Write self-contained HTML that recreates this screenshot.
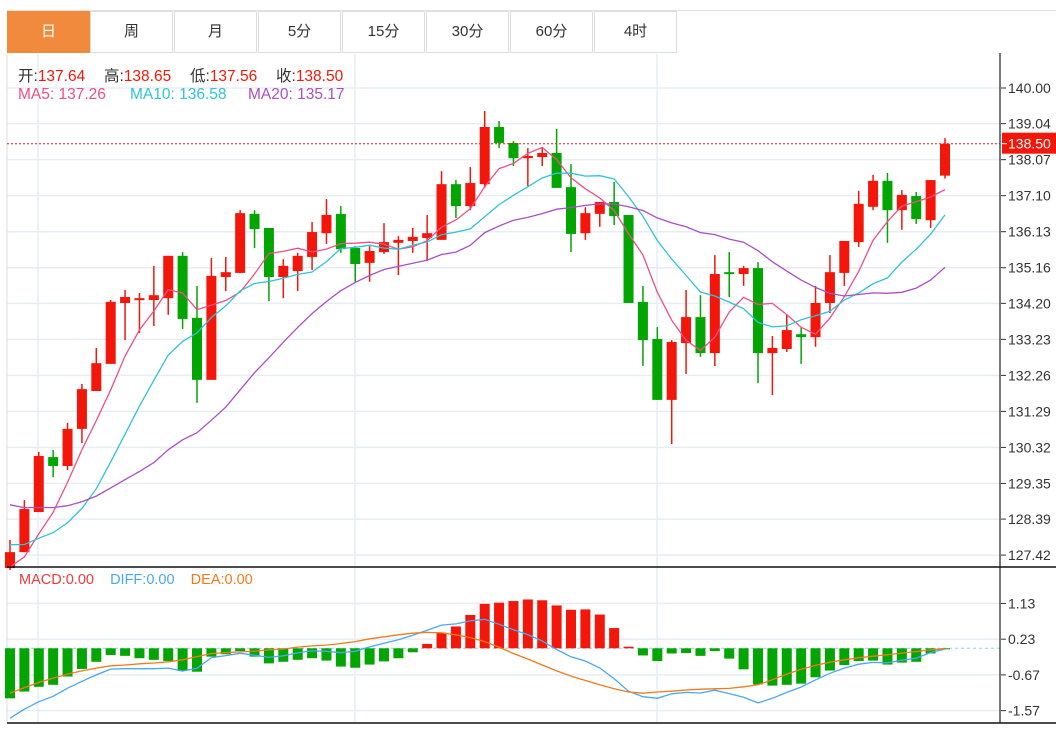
<!DOCTYPE html>
<html><head><meta charset="utf-8">
<style>
html,body{margin:0;padding:0;background:#fff;}
body{width:1056px;height:731px;overflow:hidden;position:relative;font-family:"Liberation Sans","Noto Sans CJK SC",sans-serif;}
.tab{position:absolute;top:11px;height:42px;width:83px;border:1px solid #ddd;box-sizing:border-box;text-align:center;line-height:40px;font-size:15px;color:#333;background:#fff;}
.tab.on{background:#f28a3e;color:#fff;border-color:#f28a3e;}
.info{position:absolute;font-size:15.5px;white-space:nowrap;}
</style></head>
<body>
<div style="position:absolute;left:7px;top:10px;width:1049px;height:1px;background:#e0e0e0"></div>
<div>
<div class="tab on" style="left:7px">日</div>
<div class="tab" style="left:90px">周</div>
<div class="tab" style="left:174px">月</div>
<div class="tab" style="left:258px">5分</div>
<div class="tab" style="left:342px">15分</div>
<div class="tab" style="left:426px">30分</div>
<div class="tab" style="left:510px">60分</div>
<div class="tab" style="left:594px">4时</div>
</div>
<svg id="chart" width="1056" height="731" style="position:absolute;left:0;top:0" xmlns="http://www.w3.org/2000/svg"></svg>
<div>
<div class="info" style="top:64px;left:18px;color:#333">开:<span style="color:#f01a0a">137.64</span></div>
<div class="info" style="top:64px;left:104px;color:#333">高:<span style="color:#f01a0a">138.65</span></div>
<div class="info" style="top:64px;left:190px;color:#333">低:<span style="color:#f01a0a">137.56</span></div>
<div class="info" style="top:64px;left:276px;color:#333">收:<span style="color:#f01a0a">138.50</span></div>
</div>
<div>
<div class="info" style="top:86px;left:18px;color:#ee4f86">MA5: 137.26</div>
<div class="info" style="top:86px;left:130px;color:#2fc3d8">MA10: 136.58</div>
<div class="info" style="top:86px;left:248px;color:#aa4fc4">MA20: 135.17</div>
</div>
<div class="info" style="top:572px;left:19px;font-size:14.5px"><span style="color:#f03a3a">MACD:0.00</span>&nbsp;&nbsp;&nbsp; <span style="color:#4aa8f0">DIFF:0.00</span>&nbsp;&nbsp;&nbsp; <span style="color:#f27a1a">DEA:0.00</span></div>
<script>
const opens=[127.07,127.50,128.58,130.06,129.82,130.82,131.84,132.57,134.21,134.32,134.29,134.34,135.48,133.81,132.14,134.91,135.02,136.61,136.23,134.91,135.07,135.45,136.09,136.61,135.69,135.29,135.58,135.83,135.88,135.96,135.91,137.41,136.82,137.41,138.95,138.52,138.11,138.14,138.25,137.33,136.09,136.61,136.93,136.58,134.24,133.24,131.60,133.13,133.83,132.86,135.04,134.99,135.15,132.86,132.97,133.37,133.29,134.21,135.02,135.85,136.80,137.50,136.71,137.09,136.44,137.64];
const closes=[127.50,128.66,130.09,129.82,130.82,131.89,132.59,134.24,134.37,134.34,134.42,135.48,133.78,132.14,134.94,135.04,136.63,136.20,134.91,135.21,135.48,136.12,136.58,135.66,135.26,135.61,135.85,135.91,135.99,136.09,137.41,136.82,137.44,138.95,138.52,138.11,138.17,138.25,137.31,136.07,136.63,136.93,136.55,134.21,133.21,131.60,133.16,133.83,132.86,134.99,134.99,135.15,132.86,133.00,133.48,133.29,134.21,135.04,135.88,136.88,137.50,136.71,137.12,136.47,137.52,138.50];
const highs=[127.83,128.90,130.20,130.25,130.98,132.03,133.00,134.29,134.56,134.48,135.21,135.48,135.58,134.67,135.42,135.45,136.71,136.71,136.23,135.39,135.56,136.39,137.01,136.82,135.74,135.74,136.36,136.01,136.23,136.58,137.76,137.52,137.87,139.38,139.11,138.57,138.38,138.38,138.90,137.95,136.79,136.93,137.47,136.58,134.67,133.56,133.21,134.56,134.42,135.50,135.58,135.21,135.31,133.32,133.89,133.56,134.67,135.50,135.88,137.23,137.66,137.71,137.25,137.20,137.52,138.65];
const lows=[127.02,127.50,128.58,129.52,129.71,130.44,131.84,132.57,133.21,133.40,133.59,133.89,133.51,131.52,132.14,134.53,135.02,135.69,134.26,134.34,134.53,135.10,135.80,135.56,134.78,134.78,135.53,134.96,135.56,135.34,135.91,136.50,136.71,137.31,138.38,137.90,137.36,137.90,137.31,135.58,135.91,136.26,136.31,134.21,132.51,131.60,130.41,132.30,132.76,132.51,134.37,134.67,132.05,131.73,132.89,132.57,133.03,133.94,134.67,135.72,136.71,135.83,136.18,136.34,136.23,137.56];
const priorCloses=[130.2,130.0,129.9,129.8,129.7,129.6,129.8,129.9,130.0,129.6,128.6,128.4,128.3,128.2,128.0,127.3,127.0,126.9,126.8];
const macdHist=[-1.26,-1.09,-0.97,-0.92,-0.71,-0.52,-0.34,-0.17,-0.19,-0.25,-0.29,-0.32,-0.57,-0.59,-0.21,-0.15,-0.07,-0.21,-0.38,-0.34,-0.29,-0.25,-0.31,-0.46,-0.49,-0.41,-0.33,-0.25,-0.10,0.11,0.39,0.55,0.84,1.12,1.15,1.19,1.23,1.21,1.08,0.97,0.98,0.85,0.51,0.04,-0.18,-0.32,-0.13,-0.12,-0.19,-0.07,-0.26,-0.53,-0.91,-0.94,-0.92,-0.89,-0.73,-0.56,-0.42,-0.32,-0.31,-0.41,-0.36,-0.34,-0.13,-0.02];
const deaVals=[-1.13,-0.99,-0.86,-0.75,-0.65,-0.57,-0.50,-0.44,-0.42,-0.39,-0.37,-0.34,-0.29,-0.21,-0.13,-0.11,-0.09,-0.07,-0.04,-0.02,0.03,0.06,0.08,0.12,0.17,0.24,0.29,0.34,0.38,0.40,0.39,0.34,0.27,0.17,0.03,-0.13,-0.27,-0.42,-0.57,-0.70,-0.81,-0.92,-1.02,-1.10,-1.13,-1.10,-1.08,-1.05,-1.03,-1.02,-1.01,-0.97,-0.92,-0.79,-0.65,-0.53,-0.43,-0.35,-0.29,-0.24,-0.20,-0.16,-0.12,-0.08,-0.04,-0.01];
const priceTicks=["140.00","139.04","138.07","137.10","136.13","135.16","134.20","133.23","132.26","131.29","130.32","129.35","128.39","127.42"];
const macdTicks=["1.13","0.23","-0.67","-1.57"];
const lastPrice=138.50;

const svg=document.getElementById('chart');
const NS='http://www.w3.org/2000/svg';
function mk(tag,attrs,parent){const e=document.createElementNS(NS,tag);for(const k in attrs)e.setAttribute(k,attrs[k]);(parent||svg).appendChild(e);return e;}
const X0=10,STEP=935/65,L=7,R=1000;
const xs=i=>X0+i*STEP;
const py=p=>88+(140-p)*37.13;
const my=v=>648.3-v*39.7;
const RED='#f2170a',GREEN='#03a503';

const grid=mk('g',{});


priceTicks.forEach(t=>{const y=py(parseFloat(t));const l=mk('line',{x1:L,x2:R,y1:y,y2:y,stroke:'#e6edf3','stroke-width':1.5},grid);

});
macdTicks.forEach(t=>{const y=my(parseFloat(t));const l=mk('line',{x1:L,x2:R,y1:y,y2:y,stroke:'#e6edf3','stroke-width':1.5},grid);

});
[38,355,657].forEach(x=>{const l=mk('line',{x1:x,x2:x,y1:54,y2:723,stroke:'#e6edf3','stroke-width':1.5},grid);

});
mk('line',{x1:L,x2:L,y1:53,y2:723,stroke:'#dcdcdc','stroke-width':1});

const cg=mk('g',{});


for(let i=0;i<closes.length;i++){
  const up=closes[i]>=opens[i];const c=up?RED:GREEN;const x=xs(i);
  const w=mk('line',{x1:x,x2:x,y1:py(highs[i]),y2:py(lows[i]),stroke:c,'stroke-width':1.5},cg);
  
  
  const t=py(Math.max(opens[i],closes[i])),b=py(Math.min(opens[i],closes[i]));
  const r=mk('rect',{x:x-5,y:t,width:10,height:Math.max(b-t,2),fill:c},cg);
  
  
}
const all=priorCloses.concat(closes);
function ma(n){return closes.map((_,i)=>{const j=i+priorCloses.length;let s=0;for(let k=j-n+1;k<=j;k++)s+=all[k];return s/n;});}
[[5,'#ee4f86','ma5-line'],[10,'#2fc3d8','ma10-line'],[20,'#aa4fc4','ma20-line']].forEach(([n,col,name])=>{
  const v=ma(n);const d=v.map((p,i)=>(i?'L':'M')+xs(i).toFixed(1)+','+py(p).toFixed(1)).join('');
  const p=mk('path',{d:d,fill:'none',stroke:col,'stroke-width':1.3});
  
  
});
const lp=mk('line',{x1:L,x2:R,y1:py(lastPrice),y2:py(lastPrice),stroke:'#e02020','stroke-width':1,'stroke-dasharray':'2,2'});



const zl=mk('line',{x1:L,x2:R,y1:my(0),y2:my(0),stroke:'#8fd3ee','stroke-width':1,'stroke-dasharray':'3,3'});


const hg=mk('g',{});


macdHist.forEach((v,i)=>{const y0=my(0),y1=my(v);
  const r=mk('rect',{x:xs(i)-5,y:Math.min(y0,y1),width:10,height:Math.max(Math.abs(y1-y0),1),fill:v>=0?RED:GREEN},hg);
  
  });
const diffVals=deaVals.map((d,i)=>d+macdHist[i]/2);
[[diffVals,'#4aa8f0','diff-line'],[deaVals,'#f27a1a','dea-line']].forEach(([v,col,name])=>{
  const d=v.map((p,i)=>(i?'L':'M')+xs(i).toFixed(1)+','+my(p).toFixed(1)).join('');
  const p=mk('path',{d:d,fill:'none',stroke:col,'stroke-width':1.3});
  
  
});

mk('line',{x1:R,x2:R,y1:53,y2:723,stroke:'#222','stroke-width':1.2});
mk('line',{x1:L,x2:1056,y1:567,y2:567,stroke:'#111','stroke-width':1.5});
mk('line',{x1:L,x2:1056,y1:723,y2:723,stroke:'#111','stroke-width':1.5});
const ax=mk('g',{});


priceTicks.forEach(t=>{const y=py(parseFloat(t));
  mk('line',{x1:R+1,x2:R+6,y1:y,y2:y,stroke:'#333'},ax);
  const tx=mk('text',{x:1008,y:y+5,'font-size':14,fill:'#333','font-family':'Liberation Sans, sans-serif'},ax);tx.textContent=t;
  
  });
const max=mk('g',{});


macdTicks.forEach(t=>{const y=my(parseFloat(t));
  mk('line',{x1:R+1,x2:R+6,y1:y,y2:y,stroke:'#333'},max);
  const tx=mk('text',{x:1008,y:y+5,'font-size':14,fill:'#333','font-family':'Liberation Sans, sans-serif'},max);tx.textContent=t;
  
  });
const tag=mk('g',{});


mk('rect',{x:1002,y:py(lastPrice)-11,width:54,height:21,fill:'#f2170a'},tag);
mk('line',{x1:1002,x2:1007,y1:py(lastPrice),y2:py(lastPrice),stroke:'#fff'},tag);
const tt=mk('text',{x:1008,y:py(lastPrice)+5,'font-size':14,fill:'#fff','font-family':'Liberation Sans, sans-serif'},tag);tt.textContent=lastPrice.toFixed(2);
</script>
</body></html>
